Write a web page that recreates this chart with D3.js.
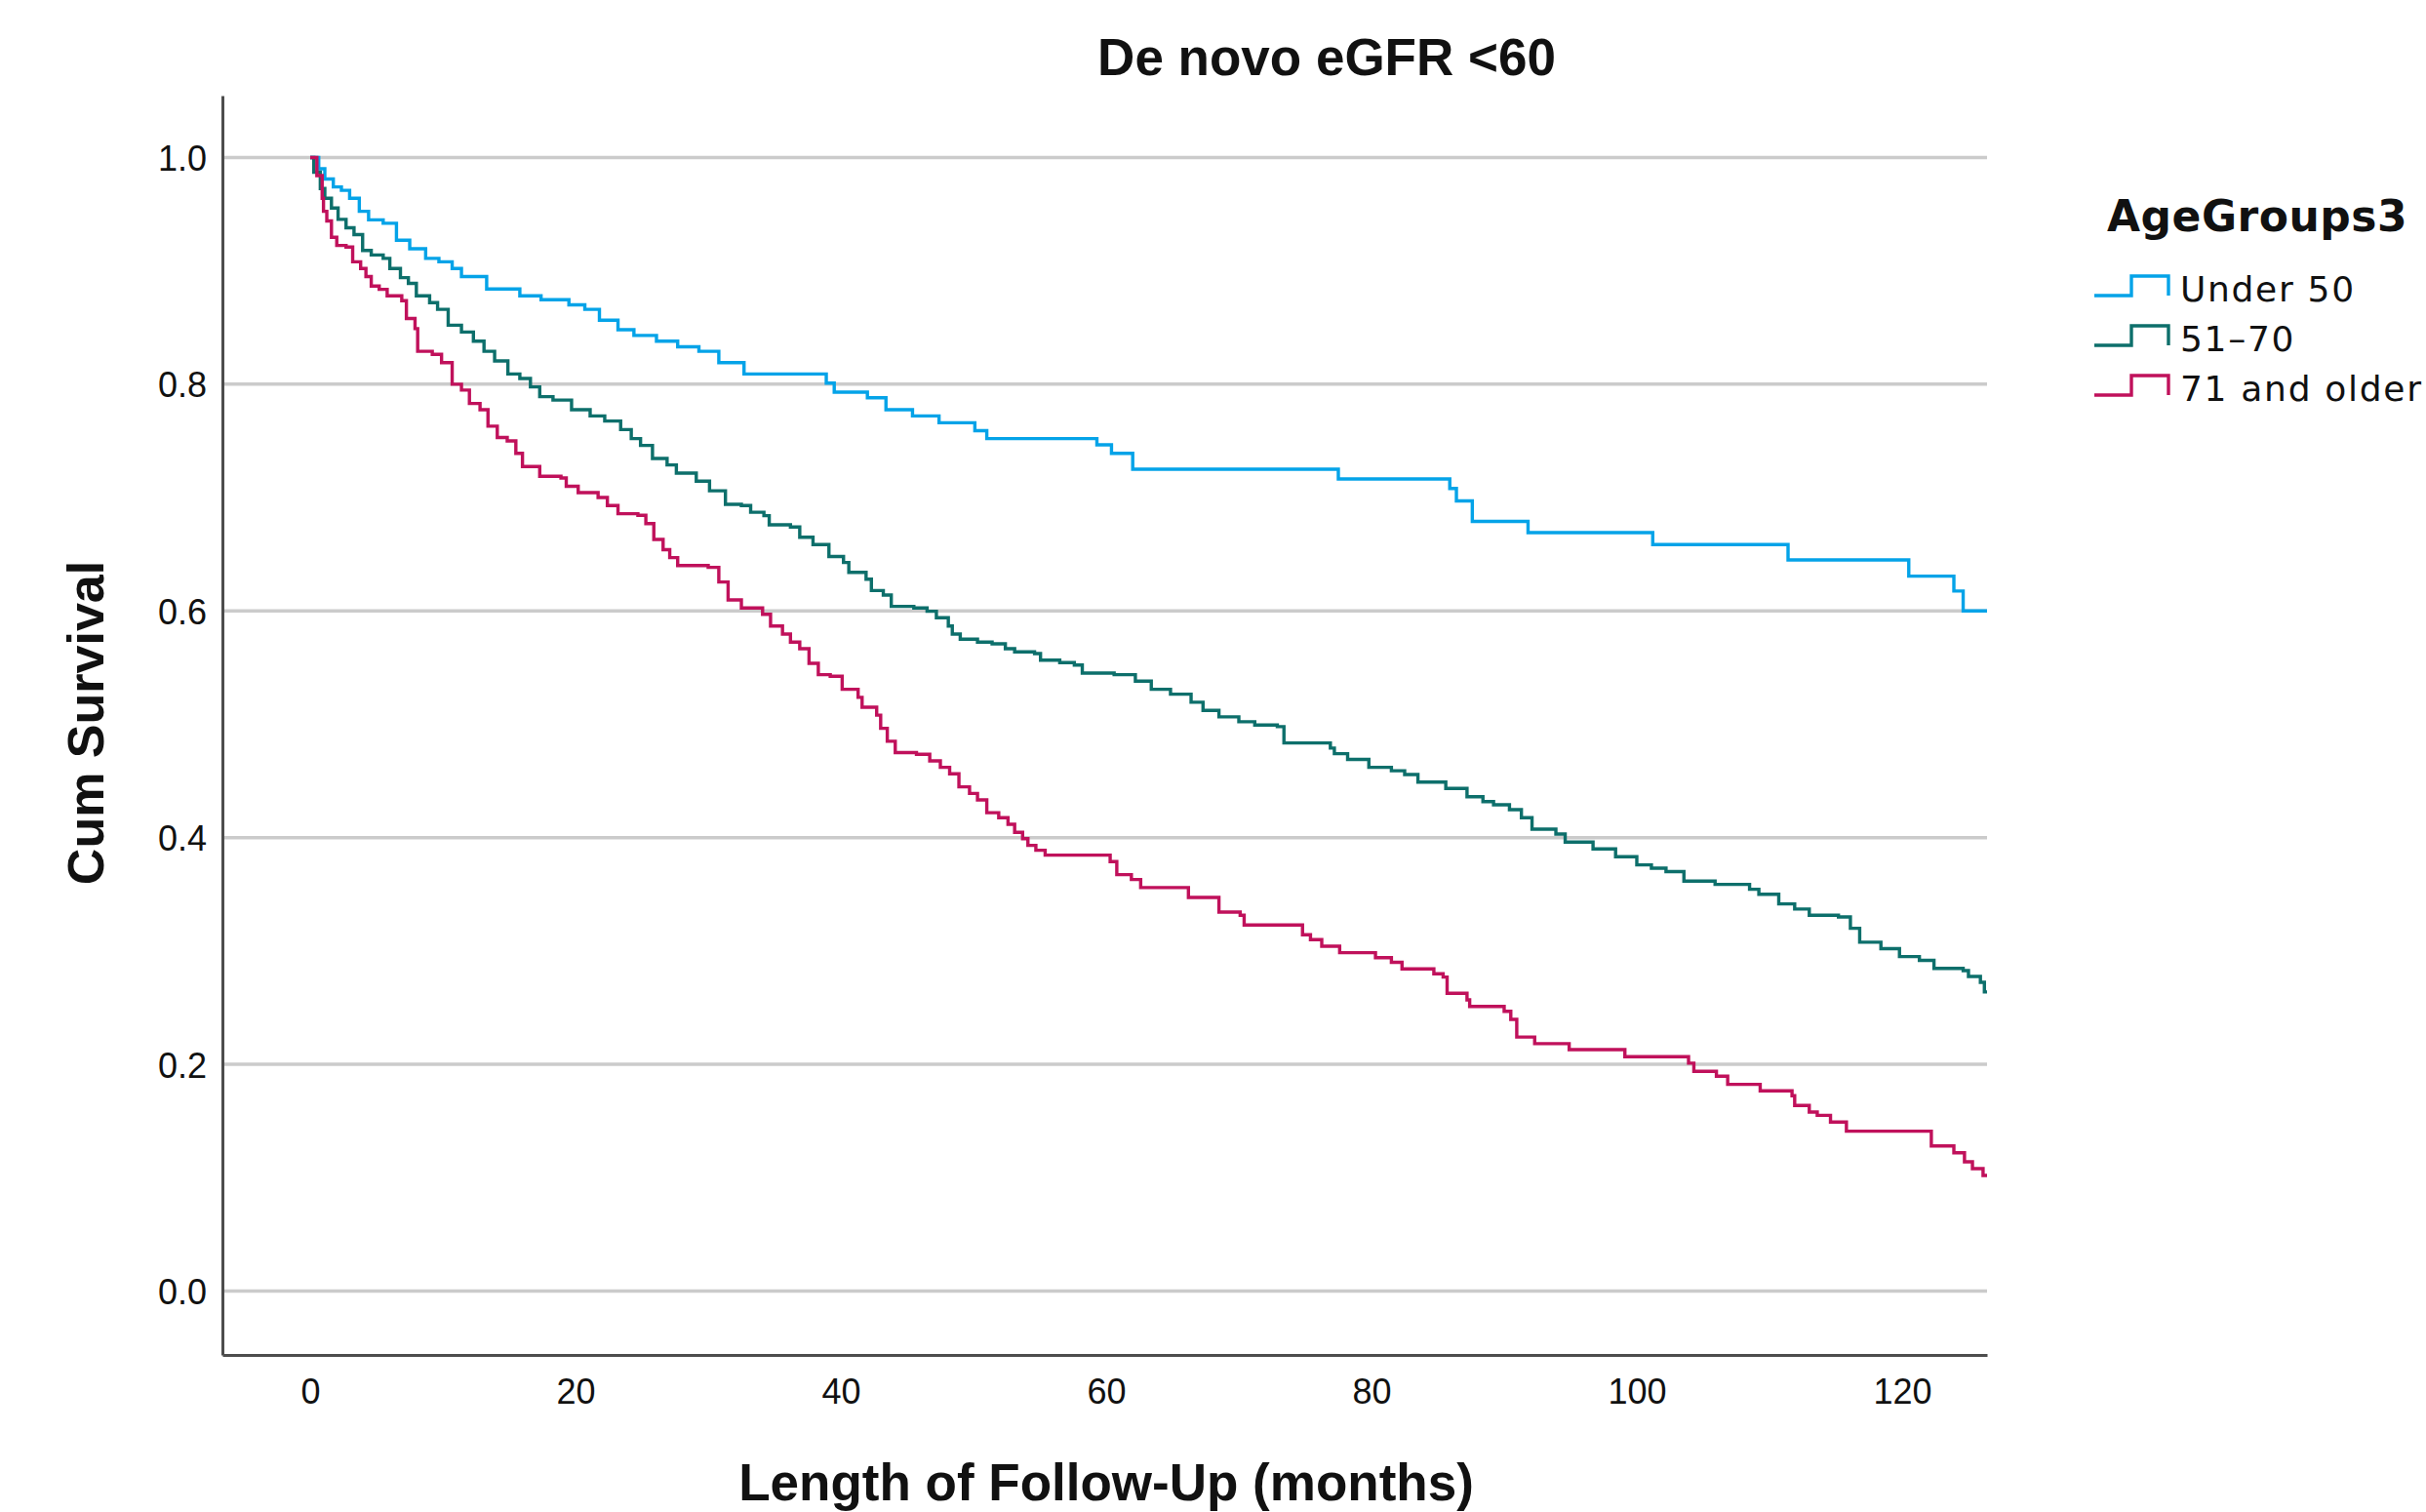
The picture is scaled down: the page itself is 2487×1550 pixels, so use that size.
<!DOCTYPE html>
<html>
<head>
<meta charset="utf-8">
<script src="https://cdn.jsdelivr.net/npm/d3@7"></script>
<style>
  html, body { margin: 0; padding: 0; background: #ffffff; }
  svg { display: block; }
</style>
</head>
<body>
<svg id="chart" width="2487" height="1550"></svg>
<script>
// ---------------- data (time in months, cumulative survival) ----------------
const chartTitle = "De novo eGFR <60";
const xAxisTitle = "Length of Follow-Up (months)";
const yAxisTitle = "Cum Survival";
const legendTitle = "AgeGroups3";
const groupNames = ["Under 50", "51\u201370", "71 and older"];
const groupColors = ["#04a3e8", "#0d6f6b", "#c0115b"];
const xTicks = [0, 20, 40, 60, 80, 100, 120];
const yTicks = [0.0, 0.2, 0.4, 0.6, 0.8, 1.0];

const under50 = [[0,1],[0.64,0.990],[1.1,0.981],[1.74,0.974],[2.35,0.971],[2.97,0.964],[3.7,0.9525],[4.4,0.945],[5.5,0.942],[6.5,0.927],[7.5,0.9195],[8.7,0.911],[9.7,0.908],[10.7,0.902],[11.4,0.895],[13.3,0.884],[15.8,0.878],[17.4,0.8745],[19.5,0.870],[20.7,0.866],[21.8,0.8565],[23.2,0.848],[24.4,0.843],[26.1,0.838],[27.7,0.833],[29.3,0.829],[30.8,0.819],[32.7,0.809],[38.9,0.801],[39.5,0.793],[42.0,0.788],[43.4,0.7775],[45.4,0.772],[47.4,0.766],[50.1,0.759],[51.0,0.752],[59.3,0.7465],[60.4,0.739],[62.0,0.725],[77.5,0.7164],[85.9,0.708],[86.4,0.697],[87.6,0.679],[91.8,0.669],[101.2,0.6585],[111.4,0.645],[120.5,0.6307],[123.9,0.6175],[124.6,0.600],[126.4,0.600]];

const age51to70 = [[0,1],[0.27,0.987],[0.76,0.9726],[1.1,0.964],[1.6,0.9554],[2.1,0.9454],[2.7,0.938],[3.3,0.932],[3.95,0.918],[4.6,0.914],[5.5,0.911],[6.0,0.902],[6.8,0.894],[7.4,0.889],[8.0,0.878],[9.0,0.872],[9.6,0.866],[10.4,0.852],[11.4,0.846],[12.3,0.838],[13.1,0.829],[13.9,0.8205],[14.9,0.809],[15.8,0.805],[16.6,0.7976],[17.3,0.789],[18.3,0.786],[19.7,0.7775],[21.1,0.772],[22.2,0.7675],[23.4,0.760],[24.2,0.752],[24.9,0.746],[25.8,0.7345],[26.9,0.7288],[27.6,0.7216],[29.1,0.7145],[30.1,0.706],[31.3,0.694],[32.5,0.693],[33.2,0.687],[34.2,0.684],[34.6,0.676],[36.2,0.674],[36.9,0.665],[37.9,0.6585],[39.1,0.648],[40.2,0.6427],[40.6,0.634],[41.9,0.628],[42.3,0.618],[43.2,0.614],[43.8,0.604],[45.5,0.6026],[46.5,0.5997],[47.2,0.594],[48.1,0.5867],[48.4,0.5796],[49.0,0.575],[50.3,0.5725],[51.4,0.571],[52.4,0.5667],[53.1,0.5638],[54.6,0.5624],[55.05,0.5566],[56.5,0.5544],[57.6,0.5523],[58.2,0.5452],[60.6,0.5437],[62.2,0.538],[63.4,0.5308],[64.85,0.5265],[66.4,0.5194],[67.3,0.5122],[68.5,0.5065],[70.0,0.5022],[71.2,0.4993],[72.9,0.4979],[73.4,0.4835],[76.9,0.479],[77.2,0.474],[78.2,0.469],[79.8,0.462],[81.5,0.459],[82.5,0.4557],[83.5,0.449],[85.6,0.4434],[87.2,0.436],[88.4,0.4318],[89.2,0.429],[90.4,0.4247],[91.3,0.4175],[92.1,0.4075],[93.9,0.4032],[94.6,0.396],[96.7,0.390],[98.4,0.3831],[100.0,0.3759],[101.1,0.373],[102.2,0.370],[103.55,0.3616],[105.9,0.3587],[108.5,0.3544],[109.2,0.350],[110.7,0.3415],[111.9,0.337],[113.0,0.3315],[115.2,0.330],[116.1,0.320],[116.8,0.3077],[118.4,0.302],[119.8,0.295],[121.3,0.2917],[122.4,0.2846],[124.6,0.2827],[125.0,0.2775],[125.9,0.2724],[126.2,0.2638],[126.4,0.2638]];

const age71plus = [[0,1],[0.5,0.984],[0.9,0.964],[1.0,0.9525],[1.25,0.944],[1.6,0.9296],[2.0,0.9224],[2.7,0.921],[3.2,0.908],[3.8,0.902],[4.2,0.895],[4.6,0.8866],[5.2,0.8837],[5.8,0.878],[6.9,0.8737],[7.25,0.858],[7.9,0.849],[8.1,0.829],[9.2,0.8263],[9.9,0.819],[10.7,0.800],[11.4,0.7948],[12.0,0.783],[12.8,0.7775],[13.4,0.763],[14.1,0.753],[14.85,0.750],[15.5,0.739],[16.0,0.7274],[17.3,0.7188],[18.9,0.7173],[19.3,0.710],[20.2,0.7044],[21.7,0.700],[22.4,0.693],[23.2,0.6857],[24.7,0.6843],[25.3,0.677],[25.9,0.663],[26.6,0.654],[27.1,0.647],[27.7,0.640],[30.0,0.6384],[30.8,0.6255],[31.5,0.6097],[32.5,0.6026],[34.1,0.597],[34.7,0.5867],[35.6,0.5796],[36.2,0.5725],[36.9,0.5667],[37.6,0.5538],[38.3,0.5437],[39.2,0.5423],[40.1,0.5308],[41.3,0.5237],[41.6,0.515],[42.7,0.508],[43.0,0.4964],[43.5,0.485],[44.1,0.475],[45.7,0.4735],[46.7,0.4677],[47.5,0.462],[48.2,0.4563],[48.9,0.4448],[49.7,0.439],[50.3,0.4333],[51.0,0.422],[51.9,0.4175],[52.6,0.4118],[53.1,0.4047],[53.7,0.399],[54.1,0.3931],[54.7,0.3888],[55.4,0.3845],[60.3,0.3788],[60.8,0.3673],[61.9,0.363],[62.6,0.3559],[66.2,0.3472],[68.5,0.3343],[70.1,0.3315],[70.4,0.3229],[74.8,0.3143],[75.4,0.31],[76.25,0.3042],[77.6,0.2985],[80.3,0.2941],[81.5,0.290],[82.3,0.2842],[84.7,0.2799],[85.4,0.277],[85.7,0.2627],[87.2,0.2569],[87.4,0.2511],[90.0,0.2468],[90.5,0.2397],[90.95,0.224],[92.3,0.2182],[94.9,0.213],[99.1,0.2067],[103.9,0.201],[104.3,0.1938],[106.0,0.1895],[106.85,0.1823],[109.3,0.1766],[111.7,0.1723],[111.9,0.1637],[113.0,0.1579],[113.6,0.155],[114.6,0.149],[115.8,0.141],[122.2,0.128],[123.9,0.122],[124.7,0.114],[125.3,0.108],[126.1,0.102],[126.4,0.102]];

const seriesData = [under50, age51to70, age71plus];

// ---------------- layout ----------------
const svg = d3.select("#chart");
const plotLeft = 228, plotRight = 2037, plotTop = 98, plotBottom = 1389;

const x = d3.scaleLinear().domain([-6.62, 126.4]).range([plotLeft, plotRight]);
const y = d3.scaleLinear().domain([-0.0564, 1.0546]).range([plotBottom, plotTop]);

// gridlines
svg.append("g").selectAll("line").data(yTicks).join("line")
  .attr("x1", plotLeft).attr("x2", plotRight)
  .attr("y1", d => y(d)).attr("y2", d => y(d))
  .attr("stroke", "#cbcbcb").attr("stroke-width", 3.5);

// axes
const yAxis = d3.axisLeft(y).tickValues(yTicks).tickFormat(d3.format(".1f")).tickSize(0).tickPadding(16);
const xAxis = d3.axisBottom(x).tickValues(xTicks).tickFormat(d3.format("d")).tickSize(0).tickPadding(24);

const gy = svg.append("g").attr("transform", `translate(${plotLeft},0)`).call(yAxis);
const gx = svg.append("g").attr("transform", `translate(0,${plotBottom})`).call(xAxis);
[gx, gy].forEach(g => {
  g.select(".domain").attr("stroke", "#4d4d4d").attr("stroke-width", 3);
  g.selectAll("text").attr("font-family", "'Liberation Sans', Arial, sans-serif")
    .attr("font-size", 36).attr("fill", "#111");
});
gy.selectAll("text").attr("dy", "0.36em");

// survival curves
const line = d3.line().x(d => x(d[0])).y(d => y(d[1])).curve(d3.curveStepAfter);
svg.append("g").selectAll("path").data(seriesData).join("path")
  .attr("d", d => line(d))
  .attr("fill", "none")
  .attr("stroke", (d, i) => groupColors[i])
  .attr("stroke-width", 3.4)
  .attr("stroke-linejoin", "miter");

// title
svg.append("text").attr("x", 1360).attr("y", 77).attr("text-anchor", "middle")
  .attr("font-family", "'Liberation Sans', Arial, sans-serif").attr("font-weight", "bold")
  .attr("font-size", 53).attr("fill", "#111").text(chartTitle);

// axis titles
svg.append("text").attr("x", 1134).attr("y", 1538).attr("text-anchor", "middle")
  .attr("font-family", "'Liberation Sans', Arial, sans-serif").attr("font-weight", "bold")
  .attr("font-size", 53).attr("fill", "#111").text(xAxisTitle);

svg.append("text").attr("transform", "translate(106,741) rotate(-90)").attr("text-anchor", "middle")
  .attr("font-family", "'Liberation Sans', Arial, sans-serif").attr("font-weight", "bold")
  .attr("font-size", 52).attr("fill", "#111").text(yAxisTitle);

// legend
const lg = svg.append("g");
lg.append("text").attr("x", 2160).attr("y", 237)
  .attr("font-family", "'DejaVu Sans', sans-serif").attr("font-weight", "bold")
  .attr("font-size", 44).attr("letter-spacing", 0.5).attr("fill", "#111").text(legendTitle);

const rows = lg.selectAll("g.row").data(groupNames).join("g").attr("class", "row")
  .attr("transform", (d, i) => `translate(0,${303 + i * 51})`);
rows.append("path")
  .attr("d", "M2147,0 H2185 V-20 H2223 V0")
  .attr("fill", "none").attr("stroke", (d, i) => groupColors[i]).attr("stroke-width", 3.4);
rows.append("text").attr("x", 2235).attr("y", 6)
  .attr("font-family", "'DejaVu Sans', sans-serif").attr("font-size", 36)
  .attr("letter-spacing", 1.7).attr("fill", "#111").text(d => d);
</script>
</body>
</html>
